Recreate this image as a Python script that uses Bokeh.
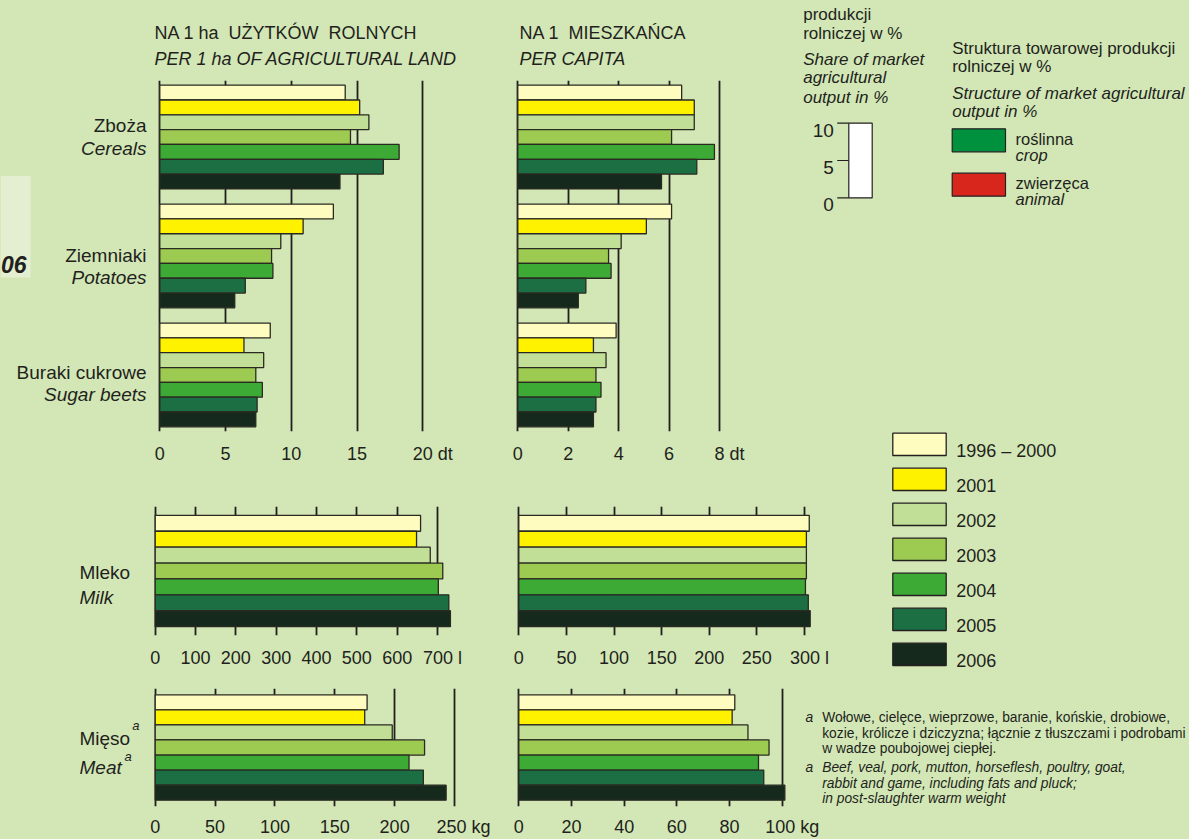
from bokeh.plotting import figure
from bokeh.layouts import row, column
from bokeh.models import (Range1d, FixedTicker, ColumnDataSource, GlobalInlineStyleSheet)
from bokeh.core.properties import value
from bokeh.embed import file_html
from bokeh.resources import INLINE

# ---------------------------------------------------------------- data
years = ["1996 – 2000", "2001", "2002", "2003", "2004", "2005", "2006"]

crop_pl = ["Zboża", "Ziemniaki", "Buraki cukrowe"]
crop_en = ["Cereals", "Potatoes", "Sugar beets"]

# dt per 1 ha of agricultural land
cereals_per_ha = [14.1, 15.2, 15.9, 14.5, 18.2, 17.0, 13.7]
potatoes_per_ha = [13.2, 10.9, 9.2, 8.5, 8.6, 6.5, 5.7]
beets_per_ha = [8.4, 6.4, 7.9, 7.3, 7.8, 7.4, 7.3]
# dt per capita
cereals_per_capita = [6.5, 7.0, 7.0, 6.1, 7.8, 7.1, 5.7]
potatoes_per_capita = [6.1, 5.1, 4.1, 3.6, 3.7, 2.7, 2.4]
beets_per_capita = [3.9, 3.0, 3.5, 3.1, 3.3, 3.1, 3.0]

milk_pl, milk_en = "Mleko", "Milk"
milk_per_ha = [658, 648, 682, 713, 702, 728, 732]          # l
milk_per_capita = [305, 302, 302, 302, 301, 304, 306]      # l

meat_pl, meat_en = "Mięso", "Meat"
meat_per_ha = [177, 175, 198, 225, 212, 224, 243]          # kg
meat_per_capita = [82, 81, 87, 95, 91, 93, 101]            # kg

ticks_crop_ha = [0, 5, 10, 15, 20]
ticks_crop_pc = [0, 2, 4, 6, 8]
ticks_milk_ha = [0, 100, 200, 300, 400, 500, 600, 700]
ticks_milk_pc = [0, 50, 100, 150, 200, 250, 300]
ticks_meat_ha = [0, 50, 100, 150, 200, 250]
ticks_meat_pc = [0, 20, 40, 60, 80, 100]
unit_crop, unit_milk, unit_meat = "dt", "l", "kg"

share_ticks = [0, 5, 10]
share_value = 10
structure_pl = ["roślinna", "zwierzęca"]
structure_en = ["crop", "animal"]

# ---------------------------------------------------------------- style
BG = "#D2E7B5"
INK = "#231F20"
EDGE = "#2A2A22"
FONT = "Liberation Sans"
year_colors = ["#FFFCC0", "#FFF200", "#C1DF96", "#9DCB52", "#3DAA36", "#1B6F43", "#15291D"]
structure_colors = ["#00913F", "#D9261D"]


def base_fig(width, height, x_range, y_range, top=0, bottom=0, axis=False):
    p = figure(width=width, height=height, x_range=x_range, y_range=y_range,
               title=None, toolbar_location=None, output_backend="svg",
               x_axis_location="below" if axis else None, y_axis_location=None,
               min_border_left=0, min_border_right=0,
               min_border_top=top, min_border_bottom=bottom,
               background_fill_color=BG, border_fill_color=BG,
               outline_line_color=None)
    for g in p.grid:
        g.visible = False
    try:
        p.frame_align = False
    except Exception:
        pass
    return p


def pixel_fig(x0, y0, width, height):
    return base_fig(width, height, Range1d(x0, x0 + width), Range1d(y0 + height, y0))


def put_text(p, xs, ys, texts, size, style="normal", align="left", rn=None, **kw):
    src = ColumnDataSource(dict(x=xs, y=ys, text=texts))
    extra = dict(x_range_name=rn, y_range_name=rn) if rn else {}
    p.text(x="x", y="y", text="text", source=src, text_font=value(FONT),
           text_font_size=size, text_font_style=style, text_align=align,
           text_baseline="alphabetic", text_color=INK, **extra, **kw)


def add_px_space(p, x0, x1, y_bottom, y_top):
    p.extra_x_ranges = {"px": Range1d(x0, x1)}
    p.extra_y_ranges = {"px": Range1d(y_bottom, y_top)}


def bar_panel(width, height, top, frame_h, zero_px, px_per_unit, ticks, unit, pad_spaces,
              series, bar_px, gap_px, standoff):
    """Horizontal grouped bars; one bar slot = 1 unit on a downward-growing y scale."""
    n = len(years)
    gp = gap_px / bar_px
    pad = (frame_h / bar_px - n * len(series) - (len(series) - 1) * gp) / 2
    u_last = (len(series) - 1) * (n + gp) + n - 1
    y_range = Range1d(u_last + 0.5 + pad, -0.5 - pad)
    start = -zero_px / px_per_unit
    x_range = Range1d(start, start + width / px_per_unit)
    p = base_fig(width, height, x_range, y_range, top=top,
                 bottom=height - top - frame_h, axis=True)
    ys, rights, colors, centers = [], [], [], []
    for gi, vals in enumerate(series):
        base = gi * (n + gp)
        centers.append(base + (n - 1) / 2)
        for j, (v, c) in enumerate(zip(vals, year_colors)):
            ys.append(base + j)
            rights.append(v)
            colors.append(c)
    src = ColumnDataSource(dict(y=ys, right=rights, color=colors))
    p.hbar(y="y", left=0, right="right", height=1.0, source=src,
           fill_color="color", line_color=EDGE, line_width=1.3)
    ax = p.xaxis[0]
    ax.ticker = FixedTicker(ticks=ticks)
    ax.major_label_overrides = {ticks[-1]: "\u2007" * pad_spaces + f"{ticks[-1]} {unit}"}
    ax.axis_line_color = None
    ax.major_tick_line_color = None
    ax.minor_tick_line_color = None
    ax.major_label_text_font = FONT
    ax.major_label_text_font_size = "18px"
    ax.major_label_text_color = INK
    ax.major_label_standoff = standoff
    xg = p.xgrid[0]
    xg.visible = True
    xg.grid_line_color = INK
    xg.grid_line_width = 1.8
    return p, centers


def group_labels(p, centers, pl, en, dx, dy_pl, dy_en, align, size="19px"):
    src = ColumnDataSource(dict(x=[0] * len(centers), y=centers, pl=pl, en=en,
                                dypl=dy_pl, dyen=dy_en))
    for col, dy, style in (("pl", "dypl", "normal"), ("en", "dyen", "italic")):
        p.text(x="x", y="y", text=col, source=src, x_offset=dx, y_offset=dy,
               text_font=value(FONT), text_font_size=size, text_font_style=style,
               text_align=align, text_baseline="alphabetic", text_color=INK)


def legend_items(p, idx):
    tops = [432.7 + 35 * i for i in idx]
    p.quad(left=[892.3] * len(idx), right=[945.7] * len(idx), top=tops,
           bottom=[t + 22.3 for t in tops], fill_color=[year_colors[i] for i in idx],
           line_color=INK, line_width=1.3)
    put_text(p, [955.7] * len(idx), [t + 17.6 for t in tops], [years[i] for i in idx], "18px")


# ---------------------------------------------------------------- row A (y 0-466)
titles = pixel_fig(0, 0, 795, 75)
put_text(titles, [154, 519], [32.3, 32.3],
         ["NA 1 ha\u00a0 UŻYTKÓW\u00a0 ROLNYCH", "NA 1\u00a0 MIESZKAŃCA"], "18px")
put_text(titles, [154, 519], [58.3, 58.3],
         ["PER 1 ha OF AGRICULTURAL LAND", "PER CAPITA"], "18px", "italic")

a1, a1_c = bar_panel(490, 391, 5, 360, 159.3, 13.15, ticks_crop_ha, unit_crop, 2,
                     [cereals_per_ha, potatoes_per_ha, beets_per_ha], 15.2, 15.6, 6)
group_labels(a1, a1_c, crop_pl, crop_en, -13.3, [-11.7, -0.6, -2.6], [11, 21.7, 20], "right")
add_px_space(a1, 0, 490, 440, 80)
a1.quad(left=[0], right=[30], top=[178], bottom=[282], fill_color="#E3EFD0",
        line_color=None, x_range_name="px", y_range_name="px", level="underlay")
put_text(a1, [0.5], [269], ["06"], "23px", "bold italic", "left", rn="px")

a2, _ = bar_panel(305, 391, 5, 360, 27.3, 25.21, ticks_crop_pc, unit_crop, 2,
                  [cereals_per_capita, potatoes_per_capita, beets_per_capita], 15.2, 15.6, 6)

a3 = pixel_fig(795, 0, 394, 466)
put_text(a3, [802.7, 802.7], [13.5, 32.5], ["produkcji", "rolniczej w %"], "17px")
put_text(a3, [802.7] * 3, [59.3, 77.3, 96.7],
         ["Share of market", "agricultural", "output in %"], "17px", "italic")
# share key (0-10 %)
key_zero, key_px = 197.3, 7.46
key_y = [key_zero - t * key_px for t in share_ticks]
a3.segment(x0=[836.7] * 3, x1=[848.3] * 3, y0=key_y, y1=key_y, line_color=INK, line_width=1.2)
a3.quad(left=[848.3], right=[871.7], top=[key_zero - share_value * key_px], bottom=[key_zero],
        fill_color="white", line_color=INK, line_width=1.2)
put_text(a3, [833.3] * 3, [y + 6.8 for y in key_y], [str(t) for t in share_ticks], "19px",
         align="right")
put_text(a3, [951.7, 951.7], [48.3, 65.7], ["Struktura towarowej produkcji", "rolniczej w %"],
         "17px")
put_text(a3, [951.7, 951.7], [92.7, 111], ["Structure of market agricultural", "output in %"],
         "17px", "italic")
s_top = [128.3 + 44.4 * i for i in range(len(structure_pl))]
a3.quad(left=[951.7] * 2, right=[1005] * 2, top=s_top, bottom=[t + 23 for t in s_top],
        fill_color=structure_colors, line_color=INK, line_width=1.2)
put_text(a3, [1015] * 2, [t + 10 for t in s_top], structure_pl, "16.5px")
put_text(a3, [1015] * 2, [t + 25.8 for t in s_top], structure_en, "16.5px", "italic")
legend_items(a3, [0])

row_a = row(column(titles, row(a1, a2)), a3)

# ---------------------------------------------------------------- row B (y 466-670)
b1, b1_c = bar_panel(490, 204, 40, 129, 154.7, 0.4033, ticks_milk_ha, unit_milk, 1,
                     [milk_per_ha], 15.9, 0, 6)
group_labels(b1, b1_c, [milk_pl], [milk_en], -75.7, [1.2], [26.2], "left")
b2, _ = bar_panel(360, 204, 40, 129, 28.3, 0.9523, ticks_milk_pc, unit_milk, 1,
                  [milk_per_capita], 15.9, 0, 6)
b3 = pixel_fig(850, 466, 339, 204)
legend_items(b3, list(range(1, len(years))))
row_b = row(b1, b2, column(b3))

# ---------------------------------------------------------------- row C (y 670-839)
c1, c1_c = bar_panel(490, 169, 18, 122, 154.7, 1.1972, ticks_meat_ha, unit_meat, 2,
                     [meat_per_ha], 15.57, 0, 4)
group_labels(c1, c1_c, [meat_pl], [meat_en], -75.7, [-9.3], [19.7], "left")
sup = ColumnDataSource(dict(x=[0, 0], y=c1_c * 2, t=["a", "a"],
                            dx=[-23, -30.7], dy=[-22, 8.7]))
c1.text(x="x", y="y", text="t", source=sup, x_offset="dx", y_offset="dy",
        text_font=value(FONT), text_font_size="13px", text_font_style="italic",
        text_baseline="alphabetic", text_color=INK)

c2, _ = bar_panel(699, 169, 18, 122, 28.3, 2.634, ticks_meat_pc, unit_meat, 2,
                  [meat_per_capita], 15.57, 0, 4)
add_px_space(c2, 490, 1189, 810, 688)
put_text(c2, [805, 805], [717.7, 770], ["a", "a"], "13.8px", "italic", rn="px")
put_text(c2, [821.7] * 3, [717.7, 734.3, 750],
         ["Wołowe, cielęce, wieprzowe, baranie, końskie, drobiowe,",
          "kozie, królicze i dziczyzna; łącznie z tłuszczami i podrobami",
          "w wadze poubojowej ciepłej."], "13.8px", rn="px")
put_text(c2, [821.7] * 3, [770, 786, 801.7],
         ["Beef, veal, pork, mutton, horseflesh, poultry, goat,",
          "rabbit and game, including fats and pluck;",
          "in post-slaughter warm weight"], "13.8px", "italic", rn="px")
row_c = row(c1, c2)

page_css = GlobalInlineStyleSheet(
    css="html, body { margin: 0; padding: 0; background: %s; overflow: hidden; }" % BG)
root = column(row_a, row_b, row_c, stylesheets=[page_css])

open("out.html", "w").write(file_html(root, INLINE))
